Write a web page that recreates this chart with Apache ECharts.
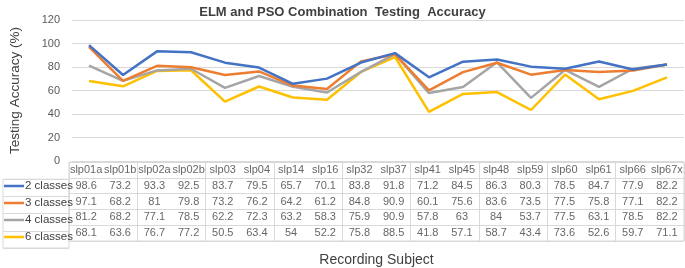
<!DOCTYPE html>
<html>
<head>
<meta charset="utf-8">
<script src="https://cdn.jsdelivr.net/npm/echarts@6/dist/echarts.min.js"></script>
<style>
    html, body { margin: 0; padding: 0; background: #fff; }
    #main { width: 685px; height: 268px; }
</style>
</head>
<body>
<div id="main"></div>
<script>
var subjects = ['slp01a','slp01b','slp02a','slp02b','slp03','slp04','slp14','slp16','slp32','slp37','slp41','slp45','slp48','slp59','slp60','slp61','slp66','slp67x'];
var seriesNames = ['2 classes','3 classes','4 classes','6 classes'];
var classes2 = [98.6,73.2,93.3,92.5,83.7,79.5,65.7,70.1,83.8,91.8,71.2,84.5,86.3,80.3,78.5,84.7,77.9,82.2];
var classes3 = [97.1,68.2,81,79.8,73.2,76.2,64.2,61.2,84.8,90.9,60.1,75.6,83.6,73.5,77.5,75.8,77.1,82.2];
var classes4 = [81.2,68.2,77.1,78.5,62.2,72.3,63.2,58.3,75.9,90.9,57.8,63,84,53.7,77.5,63.1,78.5,82.2];
var classes6 = [68.1,63.6,76.7,77.2,50.5,63.4,54,52.2,75.8,88.5,41.8,57.1,58.7,43.4,73.6,52.6,59.7,71.1];

(function () {
    var colors = ['#4472C4','#ED7D31','#A5A5A5','#FFC000'];
    var allData = [classes2, classes3, classes4, classes6];
    var font = 'Liberation Sans';
    var gridLine = '#d9d9d9';
    var rowH = 86 / 5;

    var myChart = echarts.init(document.getElementById('main'));

    var lineSeries = [];
    var tableCells = [];
    for (var s = 0; s < allData.length; s++) {
        lineSeries.push({
            name: seriesNames[s],
            type: 'line',
            xAxisIndex: 0,
            yAxisIndex: 0,
            data: allData[s],
            symbol: 'none',
            lineStyle: { width: 2.5, color: colors[s] },
            itemStyle: { color: colors[s] },
            z: 10 - s
        });
        for (var i = 0; i < subjects.length; i++) {
            tableCells.push({ value: [i, s + 1], txt: String(allData[s][i]) });
        }
    }
    for (var j = 0; j < subjects.length; j++) {
        tableCells.push({ value: [j, 0], txt: subjects[j] });
    }

    // one legend per table row so each sits on its row
    var legends = [];
    for (var k = 0; k < seriesNames.length; k++) {
        legends.push({
            data: [seriesNames[k]],
            left: 4,
            top: Math.round(162 + rowH * (k + 1) + rowH / 2 - 8),
            padding: 0,
            icon: 'rect',
            itemWidth: 20,
            itemHeight: 2.5,
            itemGap: 0,
            textStyle: { fontFamily: font, fontSize: 11.5, color: '#404040', padding: [0, 0, 0, -4] },
            selectedMode: false
        });
    }

    var option = {
        animation: false,
        title: {
            text: 'ELM and PSO Combination  Testing  Accuracy',
            left: 'center',
            top: 1,
            textStyle: { fontFamily: font, fontSize: 13, fontWeight: 'bold', color: '#404040' }
        },
        legend: legends,
        grid: [
            { left: 69, right: 1, top: 20, bottom: 107 },
            { left: 69, right: 1, top: 162, height: 86, show: true, borderColor: gridLine, borderWidth: 1 },
            { left: 3, width: 66, top: 162 + rowH, height: rowH * 4, show: true, borderColor: gridLine, borderWidth: 1 }
        ],
        xAxis: [
            {
                gridIndex: 0, type: 'category', data: subjects, boundaryGap: true,
                axisLine: { show: false }, axisTick: { show: false }, axisLabel: { show: false }
            },
            {
                gridIndex: 1, type: 'category', data: subjects, boundaryGap: true,
                axisLine: { show: false }, axisTick: { show: false }, axisLabel: { show: false },
                splitLine: { show: true, lineStyle: { color: gridLine, width: 1 } },
                name: 'Recording Subject', nameLocation: 'middle', nameGap: 12,
                nameTextStyle: { fontFamily: font, fontSize: 14, color: '#404040' }
            },
            {
                gridIndex: 2, type: 'value', min: 0, max: 1, show: false
            }
        ],
        yAxis: [
            {
                gridIndex: 0, type: 'value', min: 0, max: 120, interval: 20,
                axisLine: { show: false }, axisTick: { show: false },
                axisLabel: { fontFamily: font, fontSize: 11, color: '#595959', margin: 12 },
                splitLine: { lineStyle: { color: gridLine, width: 1 } },
                name: 'Testing Accuracy (%)', nameLocation: 'middle', nameGap: 50,
                nameTextStyle: { fontFamily: font, fontSize: 13.5, color: '#404040' }
            },
            {
                gridIndex: 1, type: 'category', data: ['', '2', '3', '4', '6'], inverse: true,
                boundaryGap: true,
                axisLine: { show: false }, axisTick: { show: false }, axisLabel: { show: false },
                splitLine: { show: true, lineStyle: { color: gridLine, width: 1 } }
            },
            {
                gridIndex: 2, type: 'category', data: seriesNames, inverse: true,
                boundaryGap: true,
                axisLine: { show: false }, axisTick: { show: false }, axisLabel: { show: false },
                splitLine: { show: true, lineStyle: { color: gridLine, width: 1 } }
            }
        ],
        series: lineSeries.concat([{
            type: 'scatter',
            xAxisIndex: 1,
            yAxisIndex: 1,
            symbolSize: 0,
            silent: true,
            data: tableCells,
            label: {
                show: true,
                position: 'inside',
                fontFamily: font,
                fontSize: 11,
                color: '#404040',
                formatter: function (p) { return p.data.txt; }
            }
        }])
    };
    myChart.setOption(option);
})();
</script>
</body>
</html>
